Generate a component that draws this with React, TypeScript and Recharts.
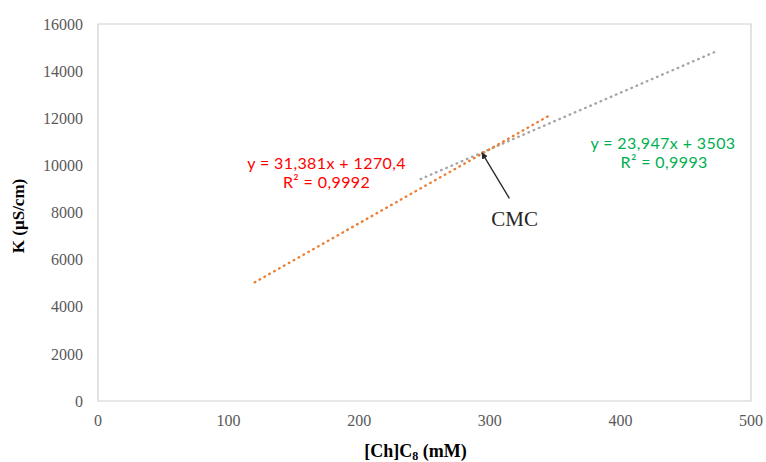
import { LineChart, Line, XAxis, YAxis, ReferenceArea, ReferenceDot, ReferenceLine, Label } from 'recharts';

// trendline end points, conductivity vs surfactant concentration
const concBelowCmc = [120, 345];
const kBelowCmc = [5036, 12097];
const concAboveCmc = [247, 473];
const kAboveCmc = [9418, 14830];

const xTicks = [0, 100, 200, 300, 400, 500];
const yTicks = [0, 2000, 4000, 6000, 8000, 10000, 12000, 14000, 16000];

const eqBelow = ['y = 31,381x + 1270,4', 'R² = 0,9992'];
const eqAbove = ['y = 23,947x + 3503', 'R² = 0,9993'];

const below = concBelowCmc.map((c, i) => ({ c, k: kBelowCmc[i] }));
const above = concAboveCmc.map((c, i) => ({ c, k: kAboveCmc[i] }));

const serif = '"Liberation Serif", "Times New Roman", serif';
const sans = 'Lato, "Open Sans", sans-serif';

// text anchored on a data point, (x, y) is the baseline centre
function textAt(key: string, x: number, y: number, text: string, color: string, font: string, size: number, spacing = 0) {
  return (
    <ReferenceDot
      key={key}
      x={x}
      y={y}
      r={0}
      fill="none"
      stroke="none"
      label={(p: any) => {
        const vb = p.viewBox || {};
        const px = (vb.x ?? 0) + (vb.width ?? 0) / 2;
        const py = (vb.y ?? 0) + (vb.height ?? 0) / 2;
        return (
          <text x={px} y={py} textAnchor="middle" fill={color} fontFamily={font} fontSize={size} letterSpacing={spacing}>
            {text}
          </text>
        );
      }}
    />
  );
}

export default function App() {
  return (
    <div style={{ position: 'absolute', left: 0, top: 0, background: '#fff' }}>
      <LineChart width={766} height={462} margin={{ top: 24, right: 15, bottom: 0, left: 0 }}>
        <defs>
          <marker id="cmc-head" viewBox="0 0 10 10" refX="9" refY="5" markerWidth="5" markerHeight="5" orient="auto">
            <path d="M0,0 L10,5 L0,10 z" fill="#262626" />
          </marker>
        </defs>
        <XAxis
          type="number"
          dataKey="c"
          domain={[0, 500]}
          ticks={xTicks}
          height={61}
          axisLine={false}
          tickLine={false}
          tickSize={0}
          tickMargin={14}
          tick={{ fill: '#595959', fontSize: 16, fontFamily: serif }}
        >
          <Label
            content={(p: any) => {
              const vb = p.viewBox;
              return (
                <text x={vb.x + vb.width / 2 - 9} y={457} textAnchor="middle" fontFamily={serif} fontSize={18} fontWeight="bold" fill="#000">
                  [Ch]C<tspan fontSize={12} dy={3}>8</tspan>
                  <tspan dy={-3}> (mM)</tspan>
                </text>
              );
            }}
          />
        </XAxis>
        <YAxis
          type="number"
          dataKey="k"
          domain={[0, 16000]}
          ticks={yTicks}
          width={98}
          axisLine={false}
          tickLine={false}
          tickSize={0}
          tickMargin={15}
          tick={{ fill: '#595959', fontSize: 16, fontFamily: serif }}
        >
          <Label
            content={() => (
              <text
                x={18}
                y={216}
                transform="rotate(-90 18 216)"
                textAnchor="middle"
                dominantBaseline="central"
                fontFamily={serif}
                fontSize={17}
                fontWeight="bold"
                fill="#000"
              >
                K (µS/cm)
              </text>
            )}
          />
        </YAxis>
        <ReferenceArea x1={0} x2={500} y1={0} y2={16000} fill="none" stroke="#d0d0d0" strokeWidth={1.2} />
        <Line
          data={above}
          dataKey="k"
          type="linear"
          stroke="#a5a5a5"
          strokeWidth={2.4}
          strokeDasharray="0.6 5"
          strokeLinecap="round"
          dot={false}
          isAnimationActive={false}
        />
        <Line
          data={below}
          dataKey="k"
          type="linear"
          stroke="#ed7d31"
          strokeWidth={2.4}
          strokeDasharray="0.6 5"
          strokeLinecap="round"
          dot={false}
          isAnimationActive={false}
        />
        <ReferenceLine
          segment={[{ x: 315, y: 8600 }, { x: 294, y: 10530 }]}
          stroke="#262626"
          strokeWidth={1.3}
          markerEnd="url(#cmc-head)"
        />
        {textAt('eb0', 175, 9847, eqBelow[0], '#ff0000', sans, 16, 0.4)}
        {textAt('eb1', 175, 9041, eqBelow[1], '#ff0000', sans, 16, 0.4)}
        {textAt('ea0', 432.6, 10683, eqAbove[0], '#00b050', sans, 16, 0.4)}
        {textAt('ea1', 433.5, 9868, eqAbove[1], '#00b050', sans, 16, 0.4)}
        {textAt('cmc', 319, 7440, 'CMC', '#262626', serif, 21)}
      </LineChart>
    </div>
  );
}
